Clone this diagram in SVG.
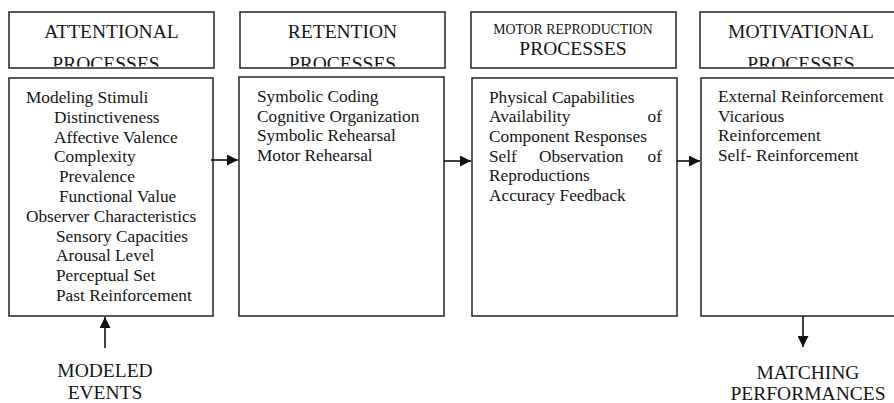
<svg xmlns="http://www.w3.org/2000/svg" width="894" height="403" viewBox="0 0 894 403">
<style>
.box{fill:#fff;stroke:#222;stroke-width:1.5}
text{font-family:"Liberation Serif","Times New Roman",serif;fill:#151515}
.hd{font-size:19.5px;text-anchor:middle}
.hs{font-size:13.8px;text-anchor:middle}
.bd{font-size:17.3px}
.lb{font-size:19.5px;text-anchor:middle}
.cn{stroke:#111;stroke-width:1.6;fill:none}
</style>
<defs>
<marker id="ah" markerWidth="12" markerHeight="11" refX="11" refY="5.5" orient="auto" markerUnits="userSpaceOnUse">
<path d="M0,0 L11,5.5 L0,11 Z" fill="#111"/>
</marker>
<clipPath id="c1"><rect x="10" y="13" width="203" height="53.5"/></clipPath>
<clipPath id="c2"><rect x="241" y="13" width="203" height="53.5"/></clipPath>
<clipPath id="c4"><rect x="701" y="13" width="210" height="53.5"/></clipPath>
</defs>
<g id="attentional-header">
<rect class="box" x="9" y="12" width="205" height="56"/>
<text class="hd" x="111.5" y="38">ATTENTIONAL</text>
<text class="hd" x="106" y="70" clip-path="url(#c1)">PROCESSES</text>
</g>
<g id="retention-header">
<rect class="box" x="240" y="12" width="205" height="56"/>
<text class="hd" x="342.5" y="38">RETENTION</text>
<text class="hd" x="342.5" y="70" clip-path="url(#c2)">PROCESSES</text>
</g>
<g id="motor-header">
<rect class="box" x="471" y="12" width="205" height="56"/>
<text class="hs" x="573" y="33.5">MOTOR REPRODUCTION</text>
<text class="hd" x="573" y="55">PROCESSES</text>
</g>
<g id="motivational-header">
<rect class="box" x="700" y="12" width="210" height="56"/>
<text class="hd" x="801" y="38">MOTIVATIONAL</text>
<text class="hd" x="801" y="70" clip-path="url(#c4)">PROCESSES</text>
</g>
<g id="attentional-box">
<rect class="box" x="9" y="78" width="204" height="238"/>
<text class="bd" x="26" y="103">Modeling Stimuli</text>
<text class="bd" x="54" y="122.8">Distinctiveness</text>
<text class="bd" x="54" y="142.6">Affective Valence</text>
<text class="bd" x="54" y="162.4">Complexity</text>
<text class="bd" x="59" y="182.2">Prevalence</text>
<text class="bd" x="59" y="202">Functional Value</text>
<text class="bd" x="26" y="221.8">Observer Characteristics</text>
<text class="bd" x="56" y="241.6">Sensory Capacities</text>
<text class="bd" x="56" y="261.4">Arousal Level</text>
<text class="bd" x="56" y="281.2">Perceptual Set</text>
<text class="bd" x="56" y="301">Past Reinforcement</text>
</g>
<g id="retention-box">
<rect class="box" x="239" y="77" width="205" height="239"/>
<text class="bd" x="257" y="102">Symbolic Coding</text>
<text class="bd" x="257" y="121.7">Cognitive Organization</text>
<text class="bd" x="257" y="141.4">Symbolic Rehearsal</text>
<text class="bd" x="257" y="161.1">Motor Rehearsal</text>
</g>
<g id="motor-box">
<rect class="box" x="472" y="78" width="205" height="238"/>
<text class="bd" x="489" y="102.5">Physical Capabilities</text>
<text class="bd" x="489" y="122.2">Availability</text>
<text class="bd" x="662" y="122.2" text-anchor="end">of</text>
<text class="bd" x="489" y="141.9">Component Responses</text>
<text class="bd" x="489" y="161.6">Self</text>
<text class="bd" x="539" y="161.6">Observation</text>
<text class="bd" x="662" y="161.6" text-anchor="end">of</text>
<text class="bd" x="489" y="181.3">Reproductions</text>
<text class="bd" x="489" y="201">Accuracy Feedback</text>
</g>
<g id="motivational-box">
<rect class="box" x="701" y="78" width="210" height="238"/>
<text class="bd" x="718" y="102">External Reinforcement</text>
<text class="bd" x="718" y="121.7">Vicarious</text>
<text class="bd" x="718" y="141.4">Reinforcement</text>
<text class="bd" x="718" y="161.1">Self- Reinforcement</text>
</g>
<g id="modeled-events">
<text class="lb" x="105" y="377">MODELED</text>
<text class="lb" x="105" y="399">EVENTS</text>
</g>
<g id="matching-performances">
<text class="lb" x="808" y="379">MATCHING</text>
<text class="lb" x="808" y="400">PERFORMANCES</text>
</g>
<g id="connectors">
<line class="cn" x1="211" y1="160" x2="238" y2="160" marker-end="url(#ah)"/>
<line class="cn" x1="444" y1="161" x2="471" y2="161" marker-end="url(#ah)"/>
<line class="cn" x1="677" y1="161" x2="700" y2="161" marker-end="url(#ah)"/>
<line class="cn" x1="105" y1="348" x2="105" y2="317" marker-end="url(#ah)"/>
<line class="cn" x1="803" y1="316" x2="803" y2="347" marker-end="url(#ah)"/>
</g>
</svg>
